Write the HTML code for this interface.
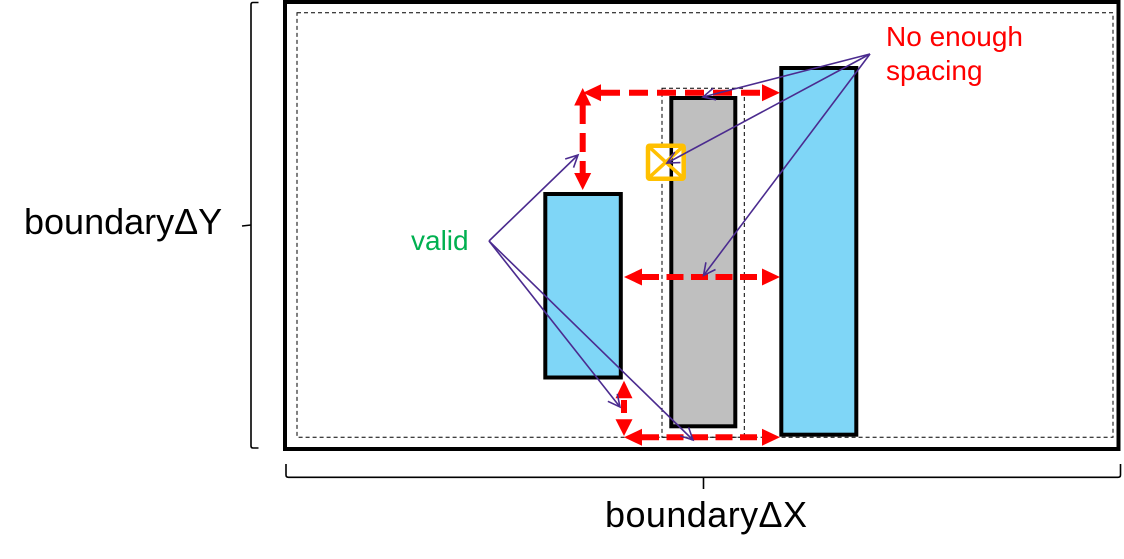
<!DOCTYPE html>
<html><head><meta charset="utf-8"><style>
html,body{margin:0;padding:0;background:#fff;}
svg{display:block;}
text{font-family:"Liberation Sans",Arial,sans-serif;}
</style></head><body>
<svg width="1124" height="559" viewBox="0 0 1124 559" xmlns="http://www.w3.org/2000/svg">
<defs>
<marker id="pa" markerUnits="userSpaceOnUse" markerWidth="16" markerHeight="16" refX="13" refY="7" orient="auto">
<path d="M1,1 L13,7 L1,13" fill="none" stroke="#4B2B8F" stroke-width="1.6"/>
</marker>
</defs>
<rect x="0" y="0" width="1124" height="559" fill="#fff"/>
<!-- outer boundary -->
<rect x="285" y="2" width="833.5" height="447" fill="none" stroke="#000" stroke-width="4"/>
<rect x="297" y="12.7" width="816" height="424.6" fill="none" stroke="#000" stroke-width="1" stroke-dasharray="4 3"/>
<!-- braces -->
<path d="M258.5,2.5 L253,2.5 Q251,2.5 251,4.5 L251,446 Q251,448 253,448 L258.5,448" fill="none" stroke="#000" stroke-width="1.6"/>
<path d="M251,225 L242,226" fill="none" stroke="#000" stroke-width="1.6"/>
<path d="M286,464 L286,475 Q286,477.3 288.5,477.3 L1118,477.3 Q1120.5,477.3 1120.5,475 L1120.5,464" fill="none" stroke="#000" stroke-width="1.6"/>
<path d="M703.5,477.3 L703.5,489" fill="none" stroke="#000" stroke-width="1.6"/>
<!-- labels -->
<text x="24" y="234" font-size="36" fill="#000">boundaryΔY</text>
<text x="605" y="527" font-size="36" fill="#000" textLength="202">boundaryΔX</text>
<text x="886" y="46" font-size="28" fill="#FF0000">No enough</text>
<text x="886" y="80" font-size="28" fill="#FF0000">spacing</text>
<text x="411" y="250" font-size="28" fill="#00B050">valid</text>
<!-- small dashed rect -->
<rect x="662" y="88.3" width="82.3" height="349" fill="none" stroke="#000" stroke-width="1" stroke-dasharray="4 3"/>
<!-- shapes -->
<rect x="545.3" y="194" width="75.5" height="183.5" fill="#7FD6F7" stroke="#000" stroke-width="4"/>
<rect x="671.3" y="98" width="64" height="328.3" fill="#BFBFBF" stroke="#000" stroke-width="4"/>
<rect x="781.3" y="68" width="75" height="366.7" fill="#7FD6F7" stroke="#000" stroke-width="4"/>
<!-- yellow box -->
<rect x="648" y="145.7" width="35.7" height="33" rx="1.5" fill="#fff" stroke="#FFC000" stroke-width="4.5"/>
<line x1="671.3" y1="148" x2="671.3" y2="176.5" stroke="#000" stroke-width="3.5"/>
<path d="M650,147.7 L681.7,176.7 M681.7,147.7 L650,176.7" stroke="#FFC000" stroke-width="3.5" fill="none"/>
<!-- red dashed arrows -->
<g fill="#FF0000">
<line x1="601" y1="92.7" x2="762" y2="92.7" stroke="#FF0000" stroke-width="6" stroke-dasharray="19 9"/>
<polygon points="583,92.7 601,84.2 601,101.2"/>
<polygon points="780,92.7 762,84.2 762,101.2"/>
<line x1="582.7" y1="105" x2="582.7" y2="173" stroke="#FF0000" stroke-width="6" stroke-dasharray="19 9"/>
<polygon points="582.7,88 574.2,105.5 591.2,105.5"/>
<polygon points="582.7,190 574.2,173 591.2,173"/>
<line x1="642" y1="277" x2="762" y2="277" stroke="#FF0000" stroke-width="6" stroke-dasharray="17 7.5"/>
<polygon points="624,277 642,268.5 642,285.5"/>
<polygon points="780,277 762,268.5 762,285.5"/>
<line x1="624" y1="400" x2="624" y2="413" stroke="#FF0000" stroke-width="6"/>
<polygon points="624,380.7 615.5,398.3 632.5,398.3"/>
<polygon points="624,436 615.5,419.3 632.5,419.3"/>
<line x1="642" y1="437.3" x2="762" y2="437.3" stroke="#FF0000" stroke-width="6" stroke-dasharray="17 7.5"/>
<polygon points="624,437.3 642,428.8 642,445.8"/>
<polygon points="780,437.3 762,428.8 762,445.8"/>
</g>
<!-- purple callout arrows -->
<g stroke="#4B2B8F" stroke-width="1.6" fill="none">
<line x1="870" y1="54" x2="703" y2="97" marker-end="url(#pa)"/>
<line x1="870" y1="54" x2="667" y2="163" marker-end="url(#pa)"/>
<line x1="870" y1="54" x2="703.5" y2="275.5" marker-end="url(#pa)"/>
<line x1="489" y1="241" x2="578" y2="155" marker-end="url(#pa)"/>
<line x1="489" y1="241" x2="620" y2="407" marker-end="url(#pa)"/>
<line x1="489" y1="241" x2="693" y2="440" marker-end="url(#pa)"/>
</g>
</svg>
</body></html>
